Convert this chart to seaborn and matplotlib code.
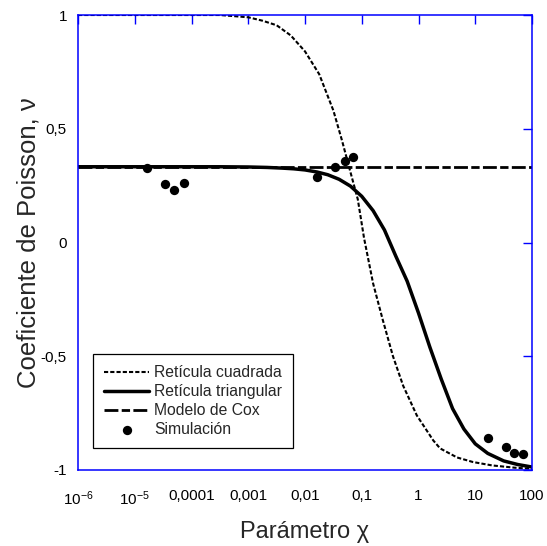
import numpy as np
import pandas as pd
import matplotlib
matplotlib.use("Agg")
import matplotlib.pyplot as plt
import seaborn as sns

# ---- data (x given as log10 positions) ----
sq_logx = [-6, -3.5, -3.0, -2.75, -2.5, -2.25, -2.0, -1.75, -1.5, -1.35, -1.2, -1.07,
           -0.96, -0.8, -0.63, -0.45, -0.27, -0.03, 0.26, 0.38, 0.68, 0.96, 1.3, 1.7, 2.0]
sq_nu = [1, 1, 0.99, 0.975, 0.955, 0.91, 0.84, 0.74, 0.58, 0.45, 0.31, 0.19,
         0.02, -0.18, -0.34, -0.50, -0.63, -0.76, -0.87, -0.905, -0.945, -0.965, -0.98, -0.99, -0.995]

tri_logx = [-6, -3.5, -3.0, -2.67, -2.4, -2.2, -2.0, -1.79, -1.6, -1.4, -1.2, -1.0,
            -0.8, -0.6, -0.4, -0.2, 0.0, 0.2, 0.4, 0.6, 0.8, 1.0, 1.22, 1.5, 1.75, 2.0]
tri_nu = [0.333, 0.333, 0.332, 0.330, 0.327, 0.324, 0.319, 0.310, 0.298, 0.278, 0.248, 0.203,
          0.14, 0.055, -0.06, -0.17, -0.31, -0.46, -0.60, -0.73, -0.82, -0.885, -0.927, -0.96, -0.976, -0.987]

cox_logx = [-6, 2]
cox_nu = [0.333, 0.333]

sim_logx = [-4.79, -4.47, -4.31, -4.14, -1.78, -1.47, -1.30, -1.15, 1.22, 1.54, 1.68, 1.85]
sim_nu = [0.326, 0.257, 0.231, 0.26, 0.289, 0.33, 0.36, 0.375, -0.861, -0.90, -0.927, -0.931]

xtick_vals = [1e-6, 1e-5, 1e-4, 1e-3, 1e-2, 1e-1, 1, 10, 100]
xtick_labels = ["$10^{-6}$", "$10^{-5}$", "0,0001", "0,001", "0,01", "0,1", "1", "10", "100"]
ytick_vals = [-1, -0.5, 0, 0.5, 1]
ytick_labels = ["-1", "-0,5", "0", "0,5", "1"]

labels = ["Retícula cuadrada", "Retícula triangular", "Modelo de Cox", "Simulación"]

# ---- style ----
sns.set_style("white")
plt.rcParams["font.family"] = ["Liberation Sans", "DejaVu Sans"]
plt.rcParams["mathtext.fontset"] = "custom"
plt.rcParams["mathtext.rm"] = "Liberation Sans"
plt.rcParams["mathtext.it"] = "Liberation Sans"

fig = plt.figure(figsize=(5.47, 5.46), dpi=100)
ax = fig.add_axes([0.1426, 0.1392, 0.8300, 0.8333])

df_sq = pd.DataFrame({"x": 10 ** np.array(sq_logx, float), "y": sq_nu})
df_tri = pd.DataFrame({"x": 10 ** np.array(tri_logx, float), "y": tri_nu})
df_cox = pd.DataFrame({"x": 10 ** np.array(cox_logx, float), "y": cox_nu})
df_sim = pd.DataFrame({"x": 10 ** np.array(sim_logx, float), "y": sim_nu})

sns.lineplot(data=df_sq, x="x", y="y", ax=ax, color="black", lw=1.5,
             linestyle=(0, (2.0, 1.0)), label=labels[0], sort=False)
sns.lineplot(data=df_tri, x="x", y="y", ax=ax, color="black", lw=2.5,
             label=labels[1], sort=False)
sns.lineplot(data=df_cox, x="x", y="y", ax=ax, color="black", lw=2.0,
             linestyle=(0, (5.0, 1.2, 3.0, 1.2)), label=labels[2], sort=False)
sns.scatterplot(data=df_sim, x="x", y="y", ax=ax, color="black", s=45,
                edgecolor="black", linewidth=0, label=labels[3], zorder=5)

ax.set_xscale("log")
ax.set_xlim(1e-6, 100)
ax.set_ylim(-1, 1)
ax.set_xticks(xtick_vals)
ax.set_xticklabels(xtick_labels)
ax.set_yticks(ytick_vals)
ax.set_yticklabels(ytick_labels)
ax.minorticks_off()

blue = "#0000ff"
for s in ax.spines.values():
    s.set_color(blue)
    s.set_linewidth(1.1)
    s.set_visible(True)
ax.tick_params(axis="both", which="major", direction="in", length=6.5, width=1.0,
               color=blue, labelsize=11, top=True, right=True, labelcolor="black")
ax.tick_params(axis="x", pad=14)
ax.tick_params(axis="y", pad=8)

ax.set_xlabel("Parámetro χ", fontsize=17, labelpad=9)
ax.set_ylabel("Coeficiente de Poisson, ν", fontsize=18.5, labelpad=0)

leg = ax.legend(loc="lower left", bbox_to_anchor=(0.033, 0.048), borderaxespad=0,
                fontsize=11.3, frameon=True, fancybox=False, edgecolor="black",
                handlelength=2.9, handletextpad=0.3, labelspacing=0.25,
                borderpad=0.7, framealpha=1)
leg.get_frame().set_linewidth(0.9)

fig.savefig("out.png", dpi=100)
